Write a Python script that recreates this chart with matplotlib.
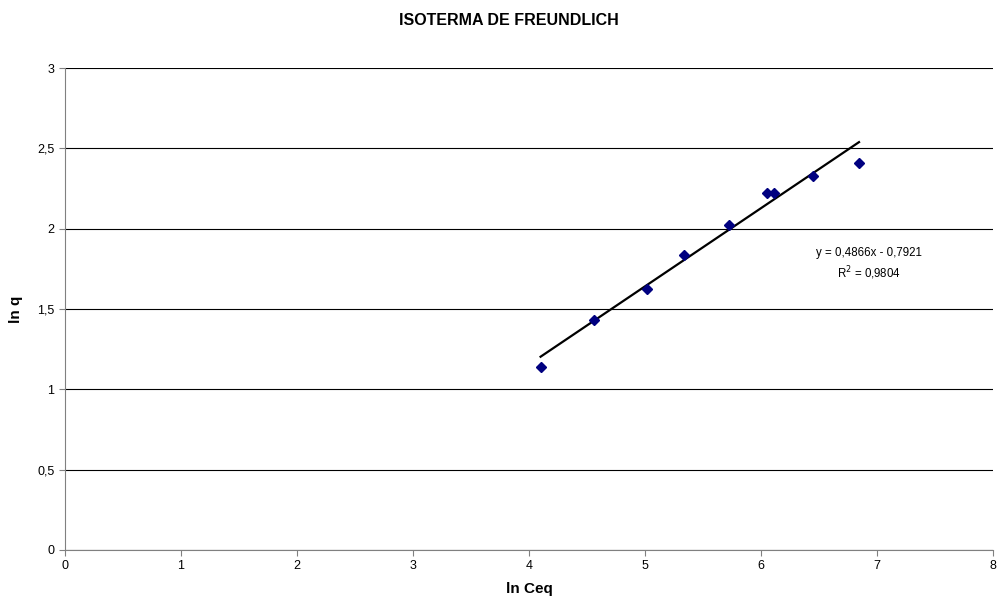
import matplotlib.pyplot as plt
import numpy as np

plt.rcParams['font.family'] = ['Liberation Sans', 'DejaVu Sans']

# ln Ceq vs ln q
ln_ceq = [4.10, 4.56, 5.02, 5.34, 5.72, 6.05, 6.11, 6.45, 6.845]
ln_q = [1.14, 1.43, 1.625, 1.835, 2.02, 2.225, 2.225, 2.33, 2.41]

# linear trendline coefficients
slope = 0.4866
intercept = -0.7921
r2 = 0.9804

fig = plt.figure(figsize=(10.01, 6.10), dpi=100)
ax = fig.add_axes([0.0649, 0.0984, 0.9271, 0.7901])

ax.set_xlim(0, 8)
ax.set_ylim(0, 3)
ax.set_xticks(np.arange(0, 9, 1))
yt = np.arange(0, 3.01, 0.5)
ax.set_yticks(yt)
ax.set_yticklabels([f"{v:g}".replace('.', ',') for v in yt])

ax.yaxis.grid(True, color='#000000', linewidth=0.8)
ax.set_axisbelow(True)

for s in ['top', 'right']:
    ax.spines[s].set_visible(False)
ax.spines['left'].set_color('#808080')
ax.spines['bottom'].set_color('#808080')
ax.tick_params(axis='both', direction='out', length=4, width=0.8, color='#808080',
               labelsize=9, labelcolor='#000000')

ax.plot(ln_ceq, ln_q, 'D', color='#000080', markersize=5, zorder=3)

xf = np.array([min(ln_ceq), max(ln_ceq)])
ax.plot(xf, slope * xf + intercept, color='#000000', linewidth=1.6, zorder=2)

eq = f"y = {slope:.4f}x - {abs(intercept):.4f}".replace('.', ',')
ax.text(6.93, 1.85, eq, ha='center', va='center', fontsize=8.3)
ax.text(6.93, 1.72, f"R$^2$ = {r2:.4f}".replace('.', ','), ha='center', va='center', fontsize=8.3)

ax.set_xlabel('ln Ceq', fontsize=11, fontweight='bold', labelpad=7)
ax.set_ylabel('ln q', fontsize=11, fontweight='bold', labelpad=10)
fig.text(0.5085, 0.967, 'ISOTERMA DE FREUNDLICH', ha='center', va='center',
         fontsize=11.5, fontweight='bold')

fig.savefig('out.png', dpi=100)
